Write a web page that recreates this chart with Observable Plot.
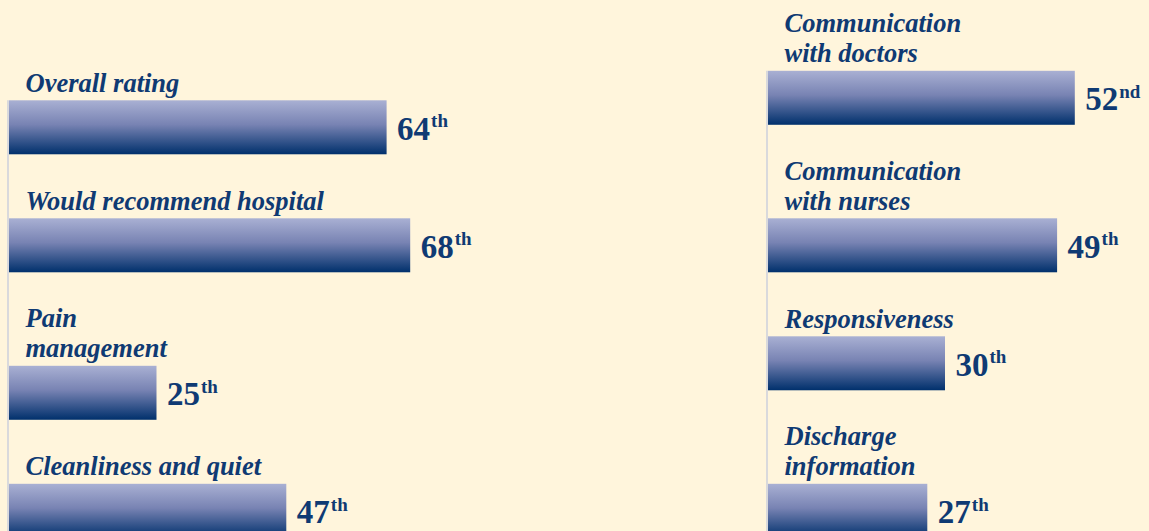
<!DOCTYPE html>
<html><head><meta charset="utf-8">
<script src="https://cdn.jsdelivr.net/npm/d3@7"></script>
<script src="https://cdn.jsdelivr.net/npm/@observablehq/plot@0.6"></script>
<style>
html,body{margin:0;padding:0;background:#fff5dc;}
#chart{display:flex;width:1149px;height:531px;overflow:hidden;}
#chart svg{display:block;}
</style></head><body><div id="chart"></div>
<script>
// Data
const leftMeasures = ["Overall rating", "Would recommend hospital", "Pain\nmanagement", "Cleanliness and quiet"];
const leftPercentiles = [64, 68, 25, 47];
const leftSuffixes = ["th", "th", "th", "th"];

const rightMeasures = ["Communication\nwith doctors", "Communication\nwith nurses", "Responsiveness", "Discharge\ninformation"];
const rightPercentiles = [52, 49, 30, 27];
const rightSuffixes = ["nd", "th", "th", "th"];

// Layout helpers (rows of text lines; panels bottom-aligned)
const TEXT = "#0f3a73";
const BAR = 1.83;       // bar thickness in text rows
const GAP = 3;          // rows between bar tops besides label lines
const BASE = 0.4;
const ROWS = 18;
const nLines = s => s.split("\n").length;
const totalRows = labels => d3.sum(labels, nLines) + GAP * (labels.length - 1);
const maxRows = Math.max(totalRows(leftMeasures), totalRows(rightMeasures));
function tops(labels) {
  let acc = BASE + (maxRows - totalRows(labels));
  return labels.map((l, i) => { acc += nLines(l) + (i > 0 ? GAP : 0); return acc; });
}

function gradientDefs(id) {
  return () => {
    const defs = d3.create("svg:defs");
    const g = defs.append("linearGradient").attr("id", id)
      .attr("x1", 0).attr("y1", 0).attr("x2", 0).attr("y2", 1);
    g.append("stop").attr("offset", "0%").attr("stop-color", "#a9b0d3");
    g.append("stop").attr("offset", "45%").attr("stop-color", "#7883b3");
    g.append("stop").attr("offset", "100%").attr("stop-color", "#00306c");
    return defs.node();
  };
}

function panel(labels, values, suffixes, width, x0, gid) {
  const t = tops(labels);
  const data = labels.map((label, i) => ({label, value: values[i], suffix: suffixes[i], top: t[i]}));
  return Plot.plot({
    width, height: 531, margin: 0,
    x: {domain: [0, 100], range: [x0, x0 + 590], axis: null},
    y: {domain: [0, ROWS], range: [0, 531], axis: null},
    style: {background: "transparent", overflow: "visible"},
    marks: [
      gradientDefs(gid),
      Plot.ruleX([0], {x: d => d, y1: () => t[0], y2: () => ROWS, stroke: "#d9d9dc", strokeWidth: 2, dx: -1.5}),
      Plot.rect(data, {x1: () => 0, x2: "value", y1: "top", y2: d => d.top + BAR, fill: `url(#${gid})`}),
      Plot.text(data, {x: () => 0, y: "top", text: "label", textAnchor: "start", lineAnchor: "bottom",
        dx: 16, dy: -9, fontSize: 26.5, fontStyle: "italic", fontWeight: "bold",
        fontFamily: "Liberation Serif", lineHeight: 1.13, fill: TEXT}),
      Plot.text(data, {x: "value", y: d => d.top + BAR / 2, text: d => String(d.value), textAnchor: "start",
        dx: 10, dy: 1.5, fontSize: 33, fontWeight: "bold", fontFamily: "Liberation Serif", fill: TEXT}),
      Plot.text(data, {x: "value", y: d => d.top + BAR / 2, text: "suffix", textAnchor: "start",
        dx: 44, dy: -6.5, fontSize: 19, fontWeight: "bold", fontFamily: "Liberation Serif", fill: TEXT})
    ]
  });
}

const root = document.getElementById("chart");
root.appendChild(panel(leftMeasures, leftPercentiles, leftSuffixes, 759, 9, "gradL"));
root.appendChild(panel(rightMeasures, rightPercentiles, rightSuffixes, 390, 9, "gradR"));
</script></body></html>
